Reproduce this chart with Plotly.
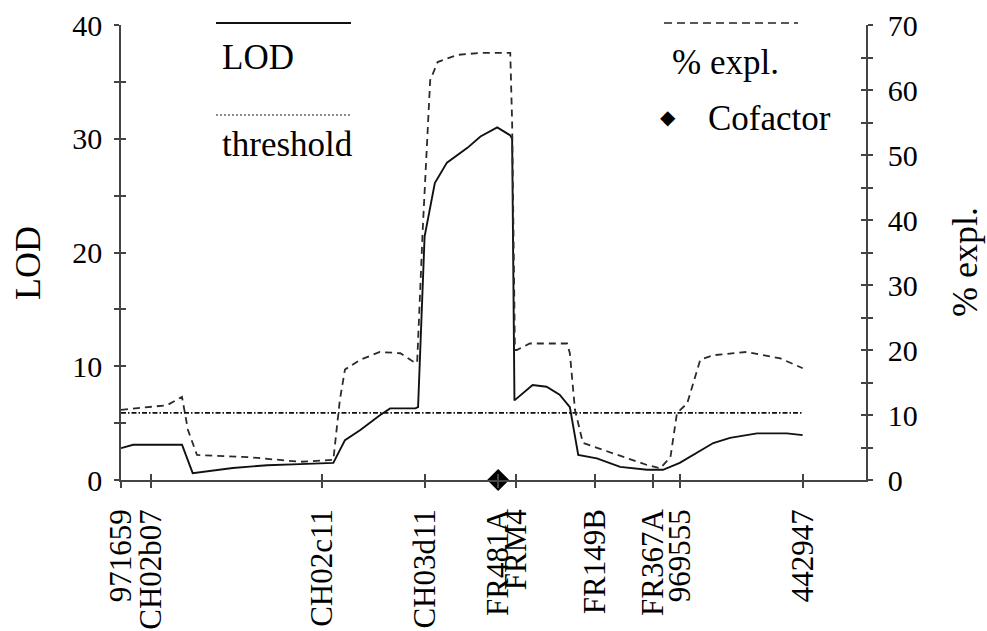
import plotly.graph_objects as go

# Marker map (cM) and names along the linkage group
marker_names = ["971659", "CH02b07", "CH02c11", "CH03d11", "FR481A", "FRM4",
                "FR149B", "FR367A", "969555", "442947"]
marker_pos = [0.0, 3.2, 21.6, 32.6, 40.5, 42.4, 50.9, 57.1, 60.0, 73.2]

# LOD profile
lod_x = [0.0, 1.3, 6.55, 7.7, 12.0, 15.7, 19.2, 22.8, 24.05, 25.7, 27.8, 28.9,
         31.6, 31.9, 32.6, 33.7, 35.0, 37.2, 38.6, 40.4, 41.8, 42.0, 42.25,
         44.2, 45.7, 47.1, 48.2, 49.1, 51.1, 53.6, 56.5, 58.2, 60.0, 63.6,
         65.4, 68.3, 71.5, 73.2]
lod_y = [2.8, 3.1, 3.1, 0.6, 1.05, 1.3, 1.4, 1.5, 3.5, 4.4, 5.7, 6.3,
         6.3, 6.4, 21.4, 26.1, 27.9, 29.2, 30.2, 31.0, 30.3, 30.0, 7.0,
         8.35, 8.2, 7.5, 6.4, 2.2, 1.9, 1.15, 0.9, 0.9, 1.5, 3.25,
         3.7, 4.1, 4.1, 3.95]

# Percentage of variance explained
pct_x = [0.0, 2.36, 4.94, 6.55, 7.19, 8.16, 13.85, 19.2, 22.8, 23.5, 24.05,
         25.7, 27.8, 30.0, 31.4, 31.8, 32.4, 33.2, 34.0, 36.1, 38.55, 41.8,
         42.0, 42.3, 42.5, 43.9, 47.9, 48.2, 48.75, 49.6, 52.8, 56.5, 57.9,
         59.0, 59.7, 60.8, 62.2, 63.6, 67.2, 70.8, 73.2]
pct_y = [10.8, 11.1, 11.5, 12.8, 7.7, 3.85, 3.5, 2.8, 3.1, 12.3, 17.0,
         18.5, 19.7, 19.5, 18.2, 18.0, 38.5, 61.5, 64.3, 65.4, 65.7, 65.7,
         55.0, 20.0, 20.0, 21.0, 21.0, 19.5, 10.8, 5.7, 4.1, 2.3, 1.8,
         3.5, 10.3, 11.8, 18.5, 19.2, 19.7, 18.7, 17.2]

# Significance threshold and cofactor
threshold_lod = 5.9
threshold_span = [0.0, 73.2]
cofactor_pos = [40.5]
cofactor_lod = [0.0]

SERIF = "Liberation Serif, Times New Roman, serif"
AX = "#444444"

fig = go.Figure()

fig.add_trace(go.Scatter(x=pct_x, y=pct_y, mode="lines", yaxis="y2",
                         line=dict(color="#2a2a2a", width=1.8, dash="7px,5px"),
                         showlegend=False))
fig.add_trace(go.Scatter(x=threshold_span, y=[threshold_lod] * 2, mode="lines",
                         line=dict(color="#111111", width=1.7, dash="5px,2px,1.5px,2px"),
                         showlegend=False))
fig.add_trace(go.Scatter(x=lod_x, y=lod_y, mode="lines",
                         line=dict(color="#111111", width=1.9),
                         showlegend=False))
fig.add_trace(go.Scatter(x=cofactor_pos, y=cofactor_lod, mode="markers",
                         marker=dict(symbol="diamond", size=17, color="#000000",
                                     line=dict(width=0)),
                         cliponaxis=False, showlegend=False))

ytickfont = dict(family=SERIF, size=30, color="#000000")
xtickfont = dict(family=SERIF, size=31, color="#000000")

fig.update_layout(
    width=987, height=631,
    margin=dict(l=121, r=121, t=25, b=151, autoexpand=False),
    paper_bgcolor="white", plot_bgcolor="white",
    xaxis=dict(range=[0, 80], tickvals=marker_pos, ticktext=marker_names,
               tickangle=-90, tickfont=xtickfont, ticks="outside", ticklen=6,
               tickcolor=AX, tickwidth=1.5, ticklabelstandoff=9,
               automargin=False,
               showline=True, linecolor=AX, linewidth=1.5,
               showgrid=False, zeroline=False),
    yaxis=dict(range=[0, 40], tickvals=[0, 10, 20, 30, 40], tickfont=ytickfont,
               ticks="outside", ticklen=5, tickcolor=AX, tickwidth=1.5,
               minor=dict(tickvals=[5, 15, 25, 35], ticks="outside", ticklen=5,
                          tickcolor=AX, tickwidth=1.5, showgrid=False),
               ticklabelstandoff=6, automargin=False,
               showline=True, linecolor=AX, linewidth=1.5,
               showgrid=False, zeroline=False),
    yaxis2=dict(range=[0, 70], overlaying="y", side="right", anchor="x",
                tickvals=[0, 10, 20, 30, 40, 50, 60, 70], tickfont=ytickfont,
                ticks="outside", ticklen=5, tickcolor=AX, tickwidth=1.5,
                minor=dict(tickvals=[5, 15, 25, 35, 45, 55, 65], ticks="outside",
                           ticklen=5, tickcolor=AX, tickwidth=1.5, showgrid=False),
                ticklabelstandoff=9, automargin=False,
                showline=True, linecolor=AX, linewidth=1.5,
                showgrid=False, zeroline=False),
    # inner halves of the crossing tick marks
    xaxis2=dict(range=[0, 80], overlaying="x", anchor="y", side="bottom",
                tickvals=marker_pos, ticks="inside", ticklen=6, tickcolor=AX,
                tickwidth=1.5, showticklabels=False, showline=False,
                showgrid=False, zeroline=False, automargin=False),
    yaxis3=dict(range=[0, 40], overlaying="y", anchor="x", side="left",
                tickvals=[0, 5, 10, 15, 20, 25, 30, 35, 40], ticks="inside",
                ticklen=5, tickcolor=AX, tickwidth=1.5, showticklabels=False,
                showline=False, showgrid=False, zeroline=False, automargin=False),
    yaxis4=dict(range=[0, 70], overlaying="y", anchor="x", side="right",
                tickvals=list(range(0, 75, 5)), ticks="inside", ticklen=5,
                tickcolor=AX, tickwidth=1.5, showticklabels=False,
                showline=False, showgrid=False, zeroline=False, automargin=False),
    showlegend=False,
)

# empty helper traces so the overlay axes get drawn
fig.add_trace(go.Scatter(x=[None], y=[None], xaxis="x2", yaxis="y3",
                         showlegend=False, hoverinfo="skip"))
fig.add_trace(go.Scatter(x=[None], y=[None], xaxis="x", yaxis="y4",
                         showlegend=False, hoverinfo="skip"))


# Helpers: pixel position inside the page -> paper fraction
def px(xp):
    return (xp - 121) / 745


def py(yp):
    return (480 - yp) / 455


# Axis titles
title_font = dict(family=SERIF, size=36, color="#000000")
fig.add_annotation(text="LOD", xref="paper", yref="paper", x=px(28), y=py(263),
                   textangle=-90, showarrow=False, font=title_font,
                   xanchor="center", yanchor="middle")
fig.add_annotation(text="% expl.", xref="paper", yref="paper", x=px(965),
                   y=py(262), textangle=-90, showarrow=False, font=title_font,
                   xanchor="center", yanchor="middle")

# Legend drawn in the upper corners
leg_font = dict(family=SERIF, size=35, color="#000000")
fig.add_shape(type="line", xref="paper", yref="paper", x0=px(216), x1=px(351),
              y0=py(23), y1=py(23), line=dict(color="#111111", width=1.9))
fig.add_annotation(text="LOD", xref="paper", yref="paper", x=px(220), y=py(58),
                   showarrow=False, font=leg_font, xanchor="left", yanchor="middle")
fig.add_shape(type="line", xref="paper", yref="paper", x0=px(216), x1=px(351),
              y0=py(115), y1=py(115),
              line=dict(color="#666666", width=1.4, dash="2px,2px"))
fig.add_annotation(text="threshold", xref="paper", yref="paper", x=px(220),
                   y=py(145), showarrow=False, font=leg_font, xanchor="left",
                   yanchor="middle")
fig.add_shape(type="line", xref="paper", yref="paper", x0=px(664), x1=px(798),
              y0=py(23), y1=py(23),
              line=dict(color="#222222", width=1.7, dash="8px,5px"))
fig.add_annotation(text="% expl.", xref="paper", yref="paper", x=px(670),
                   y=py(62), showarrow=False, font=leg_font, xanchor="left",
                   yanchor="middle")
fig.add_annotation(text="\u25c6", xref="paper", yref="paper", x=px(668),
                   y=py(117), showarrow=False,
                   font=dict(family="DejaVu Sans", size=20, color="#000000"),
                   xanchor="center", yanchor="middle")
fig.add_annotation(text="Cofactor", xref="paper", yref="paper", x=px(706),
                   y=py(118), showarrow=False, font=leg_font, xanchor="left",
                   yanchor="middle")

fig.write_html("out.html")
